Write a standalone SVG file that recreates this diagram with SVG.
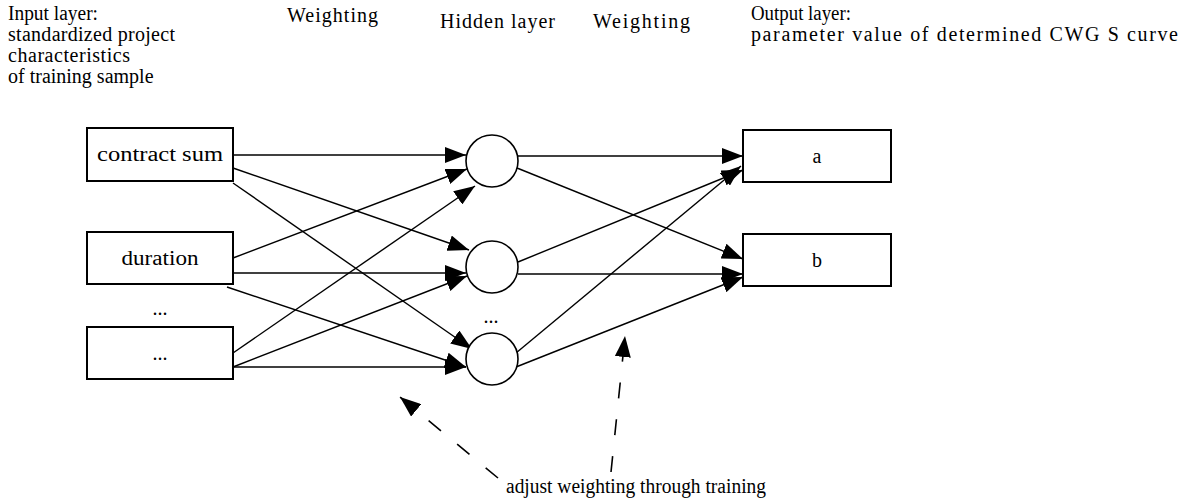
<svg xmlns="http://www.w3.org/2000/svg" width="1189" height="501" viewBox="0 0 1189 501">
<defs>
<style>
text{font-family:"Liberation Serif","Times New Roman",serif;font-size:20px;fill:#000}
.box{fill:#fff;stroke:#000;stroke-width:2}
.node{fill:#fff;stroke:#000;stroke-width:1.6}
.c{text-anchor:middle}
.ln{stroke:#000;stroke-width:1.4;fill:none;marker-end:url(#ah)}
.dash{stroke:#000;stroke-width:1.6;fill:none;stroke-dasharray:16 21;marker-end:url(#ah)}
</style>
<marker id="ah" markerUnits="userSpaceOnUse" markerWidth="22" markerHeight="16" refX="21" refY="8" orient="auto">
<path d="M0,0 L21,8 L0,16 Z" fill="#000"/>
</marker>
</defs>
<rect width="1189" height="501" fill="#fff"/>
<g id="labels">
<text x="8" y="20" textLength="90" lengthAdjust="spacingAndGlyphs">Input layer:</text>
<text x="8" y="41" textLength="167" lengthAdjust="spacing">standardized project</text>
<text x="8" y="62" textLength="122" lengthAdjust="spacing">characteristics</text>
<text x="8" y="83">of training sample</text>
<text x="287" y="22" textLength="91" lengthAdjust="spacing">Weighting</text>
<text x="440" y="28" textLength="115" lengthAdjust="spacing">Hidden layer</text>
<text x="593" y="28" textLength="97" lengthAdjust="spacing">Weighting</text>
<text x="751" y="20" textLength="100" lengthAdjust="spacingAndGlyphs">Output layer:</text>
<text x="751" y="41" textLength="427" lengthAdjust="spacing">parameter value of determined CWG S curve</text>
<text x="160" y="315" class="c">...</text>
<text x="491" y="323" class="c">...</text>
<text x="506" y="493" textLength="260" lengthAdjust="spacingAndGlyphs">adjust weighting through training</text>
</g>
<g id="connectors">
<line class="ln" x1="233" y1="155" x2="466" y2="155"/>
<line class="ln" x1="233" y1="168" x2="469" y2="250"/>
<line class="ln" x1="233" y1="183" x2="472" y2="349"/>
<line class="ln" x1="233" y1="258" x2="467" y2="169"/>
<line class="ln" x1="233" y1="273" x2="466" y2="273"/>
<line class="ln" x1="227" y1="287" x2="466" y2="367"/>
<line class="ln" x1="233" y1="353" x2="475" y2="186"/>
<line class="ln" x1="233" y1="367" x2="467" y2="276"/>
<line class="ln" x1="233" y1="367" x2="466" y2="367"/>
<line class="ln" x1="518" y1="156" x2="743" y2="156"/>
<line class="ln" x1="517" y1="168" x2="743" y2="259"/>
<line class="ln" x1="518" y1="262" x2="743" y2="170"/>
<line class="ln" x1="518" y1="274" x2="743" y2="274"/>
<line class="ln" x1="516" y1="353" x2="741" y2="166"/>
<line class="ln" x1="516" y1="367" x2="743" y2="277"/>
<line class="dash" x1="498" y1="478" x2="400" y2="397"/>
<line class="dash" x1="611" y1="472" x2="625" y2="336"/>
</g>
<g id="in1"><rect class="box" x="87" y="128" width="146" height="53"/><text x="160" y="161" class="c" textLength="126" lengthAdjust="spacingAndGlyphs">contract sum</text></g>
<g id="in2"><rect class="box" x="87" y="232" width="146" height="52"/><text x="160" y="265" class="c" textLength="77" lengthAdjust="spacingAndGlyphs">duration</text></g>
<g id="in3"><rect class="box" x="87" y="327" width="146" height="52"/><text x="160" y="360" class="c">...</text></g>
<g id="h1"><circle class="node" cx="492" cy="161" r="26"/></g>
<g id="h2"><circle class="node" cx="492" cy="267" r="26"/></g>
<g id="h3"><circle class="node" cx="492" cy="359" r="26"/></g>
<g id="outa"><rect class="box" x="743" y="130" width="148" height="52"/><text x="817" y="163" class="c">a</text></g>
<g id="outb"><rect class="box" x="743" y="234" width="148" height="52"/><text x="817" y="267" class="c">b</text></g>
</svg>
